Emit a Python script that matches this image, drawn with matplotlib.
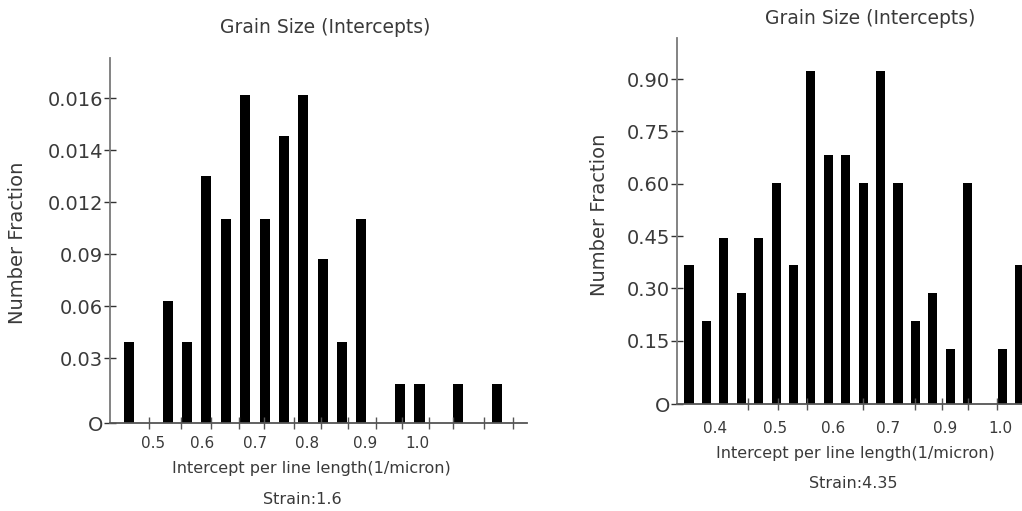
import numpy as np
import matplotlib
matplotlib.use("Agg")
import matplotlib.pyplot as plt

# Left panel (Strain 1.6): 20 bins, values on the axis' own (nominal) scale
left_vals = [0.039, 0, 0.063, 0.039, 0.135, 0.110, 0.182, 0.110, 0.158, 0.182,
             0.087, 0.039, 0.110, 0, 0.015, 0.015, 0, 0.015, 0, 0.015]
left_yticks = [0.03, 0.06, 0.09, 0.12, 0.15, 0.18]
left_ylabels = ['0.03', '0.06', '0.09', '0.012', '0.014', '0.016']
left_xlabels = ['0.5', '0.6', '0.7', '0.8', '0.9', '1.0']
left_xlabel_pos = [1.24, 3.77, 6.5, 9.19, 12.18, 14.87]
left_xmarks = [1.01, 2.68, 4.23, 5.68, 6.97, 8.52, 9.91, 11.3, 12.75, 14.09,
               15.49, 16.73, 18.33, 19.82]

# Right panel (Strain 4.35)
right_vals = [0.367, 0.207, 0.445, 0.286, 0.445, 0.603, 0.367, 0.923, 0.683, 0.683,
              0.603, 0.923, 0.603, 0.207, 0.286, 0.126, 0.603, 0, 0.126, 0.367]
right_yticks = [0.15, 0.30, 0.45, 0.60, 0.75, 0.90]
right_ylabels = ['0.15', '0.30', '0.45', '0.60', '0.75', '0.90']
right_xlabels = ['0.4', '0.5', '0.6', '0.7', '0.9', '1.0']
right_xlabel_pos = [1.49, 4.94, 8.27, 11.42, 14.70, 17.85]
right_xmarks = [1.49, 3.39, 5.11, 6.77, 8.27, 9.99, 11.42, 12.97, 14.52, 16.02, 17.68]

W, H = 1022, 511
fig = plt.figure(figsize=(W / 100, H / 100), dpi=100)
txt = '#3a3a3a'


def panel(rect, vals, ybot, ytop, xlim, yticks, ylabels, xpos, xlabels, xmarks, xpad):
    ax = fig.add_axes(rect)
    vals = np.array(vals)
    idx = np.arange(len(vals))
    m = vals > 0
    ax.bar(idx[m], vals[m] - ybot, bottom=ybot, width=0.52, color='black', zorder=1)
    ax.set_xlim(*xlim)
    ax.set_ylim(ybot, ytop)
    for s in ['top', 'right']:
        ax.spines[s].set_visible(False)
    ax.spines['left'].set_color('#7a7a7a')
    ax.spines['left'].set_linewidth(1.3)
    ax.spines['bottom'].set_color('#555555')
    ax.spines['bottom'].set_linewidth(1.3)
    ax.spines['bottom'].set_zorder(3)
    ax.set_yticks([ybot] + yticks)
    ax.set_yticklabels(['O'] + ylabels, fontsize=14, color=txt)
    ax.tick_params(axis='y', direction='inout', length=8, width=1, color='#333333', pad=1)
    ax.set_xticks(xpos)
    ax.set_xticklabels(xlabels, fontsize=11, color=txt)
    ax.set_xticks(xmarks, minor=True)
    ax.tick_params(axis='x', which='major', length=0, pad=xpad)
    ax.tick_params(axis='x', which='minor', direction='inout', length=9, width=1, color='#555555')
    return ax


panel([110 / W, 1 - 423 / H, 417 / W, 365 / H], left_vals, -0.0075, 0.2031,
      (-0.98, 20.55), left_yticks, left_ylabels, left_xlabel_pos, left_xlabels,
      left_xmarks, 9)
panel([677 / W, 1 - 404 / H, 360 / W, 366 / H], right_vals, -0.0315, 1.018,
      (-0.69, 19.98), right_yticks, right_ylabels, right_xlabel_pos, right_xlabels,
      right_xmarks, 12)

# titles and labels
fig.text(325 / W, 1 - 27 / H, 'Grain Size (Intercepts)', ha='center', va='center', fontsize=13.5, color=txt)
fig.text(870 / W, 1 - 18 / H, 'Grain Size (Intercepts)', ha='center', va='center', fontsize=13.5, color=txt)
fig.text(18 / W, 1 - 243 / H, 'Number Fraction', rotation=90, ha='center', va='center', fontsize=14, color=txt)
fig.text(599 / W, 1 - 215 / H, 'Number Fraction', rotation=90, ha='center', va='center', fontsize=14, color=txt)
fig.text(311 / W, 1 - 468 / H, 'Intercept per line length(1/micron)', ha='center', va='center', fontsize=11.5, color=txt)
fig.text(302 / W, 1 - 500 / H, 'Strain:1.6', ha='center', va='center', fontsize=11.5, color=txt)
fig.text(855 / W, 1 - 453 / H, 'Intercept per line length(1/micron)', ha='center', va='center', fontsize=11.5, color=txt)
fig.text(853 / W, 1 - 484 / H, 'Strain:4.35', ha='center', va='center', fontsize=11.5, color=txt)

fig.savefig('out.png', dpi=100)
